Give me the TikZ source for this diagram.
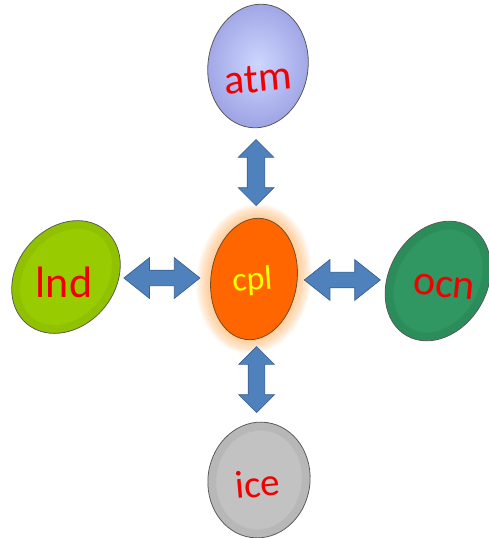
\documentclass[tikz,border=0pt]{standalone}
\usepackage{fontspec}
\setmainfont{Carlito}
\usepackage{tikz}
\usetikzlibrary{shapes.geometric,shapes.arrows,calc}
\definecolor{atminner}{RGB}{205, 214, 255}
\definecolor{atmouter}{RGB}{158, 164, 228}
\definecolor{cplorange}{RGB}{255, 102, 0}
\definecolor{cplglow}{RGB}{255, 175, 95}
\definecolor{lndgreen}{RGB}{153, 204, 0}
\definecolor{lndrim}{RGB}{95, 130, 0}
\definecolor{ocngreen}{RGB}{48, 150, 98}
\definecolor{ocnrim}{RGB}{22, 85, 50}
\definecolor{icegrey}{RGB}{194, 194, 194}
\definecolor{icerim}{RGB}{120, 120, 120}
\definecolor{arrowblue}{RGB}{79, 129, 189}
\definecolor{arrowedge}{RGB}{58, 96, 142}
\definecolor{labelred}{RGB}{240, 0, 0}
\definecolor{cplyellow}{RGB}{255, 255, 0}

% darker band just inside an ellipse: centre, x radius, y radius, angle, colour
\newcommand{\innerrim}[5]{%
    \foreach \k in {1,...,10}
        \draw[#5, opacity=0.09, line width=1pt, rotate around={#4:(#1)}]
            (#1) ellipse [x radius=#2pt-\k*0.8pt, y radius=#3pt-\k*0.8pt];}

\begin{document}
\begin{tikzpicture}[x=1pt, y=-1pt,
    model/.style={ellipse, draw=black!65, line width=0.8pt, inner sep=0pt},
    tag/.style={anchor=base, font=\fontsize{42}{42}\selectfont, text=labelred, inner sep=0pt},
    twoway/.style={double arrow, fill=arrowblue, draw=arrowedge, line width=0.7pt,
        inner xsep=0pt, minimum width=0pt, text height=0pt, text depth=0pt}]
    \useasboundingbox (0,0) rectangle (489,538);

    % Coupler in the middle, with a soft glow round it
    \coordinate (cplc) at (254,279);
    \foreach \g in {1,...,11}
        \fill[cplglow, opacity=0.08, rotate around={-8:(cplc)}]
            (cplc) ellipse [x radius=43pt+\g*1.3pt, y radius=61pt+\g*1.3pt];
    \node[model, fill=cplorange, draw=brown!60!black, minimum width=86pt, minimum height=122pt, rotate=-8] (cpl) at (cplc) {};

    % Component models
    \node[model, inner color=atminner, outer color=atmouter, minimum width=100pt, minimum height=124pt, rotate=-8] (atm) at (258,66) {};
    \node[model, fill=lndgreen, minimum width=98pt, minimum height=122pt, rotate=-40] (lnd) at (66,277) {};
    \innerrim{lnd}{49}{61}{-40}{lndrim}
    \node[model, fill=ocngreen, minimum width=98pt, minimum height=126pt, rotate=-30] (ocn) at (438,281) {};
    \innerrim{ocn}{49}{63}{-30}{ocnrim}
    \node[model, fill=icegrey, minimum width=102pt, minimum height=116pt, rotate=-8] (ice) at (259,480) {};
    \innerrim{ice}{51}{58}{-8}{icerim}

    % Labels
    \node[tag, rotate=5] (atmtxt) at (259,92) {atm};
    \node[tag, text=cplyellow, font=\fontsize{34}{34}\selectfont, rotate=4] (cpltxt) at (253,290) {cpl};
    \node[tag, font=\fontsize{44}{44}\selectfont] (lndtxt) at (64,297) {lnd};
    \node[tag, font=\fontsize{42}{42}\selectfont, rotate=-6] (ocntxt) at (443,297) {ocn};
    \node[tag, font=\fontsize{39}{39}\selectfont, rotate=5] (icetxt) at (259,497) {ice};

    % Two-way exchange with the coupler
    \node[twoway, rotate=90, minimum height=66pt, inner ysep=8.5pt, double arrow head extend=9pt] (a2c) at ($(cpl)!0.5!(atm)$) {};
    \node[twoway, rotate=90, minimum height=66pt, inner ysep=8pt, double arrow head extend=9.5pt] (i2c) at ($(cpl)!0.5!(ice)$) {};
    \node[twoway, minimum height=76pt, inner ysep=7.5pt, double arrow head extend=12.5pt, double arrow tip angle=77] (l2c) at ($(cpl)!0.49!(lnd)$) {};
    \node[twoway, minimum height=76pt, inner ysep=7.5pt, double arrow head extend=12.5pt, double arrow tip angle=77] (o2c) at ($(cpl)!0.48!(ocn)$) {};
\end{tikzpicture}
\end{document}
